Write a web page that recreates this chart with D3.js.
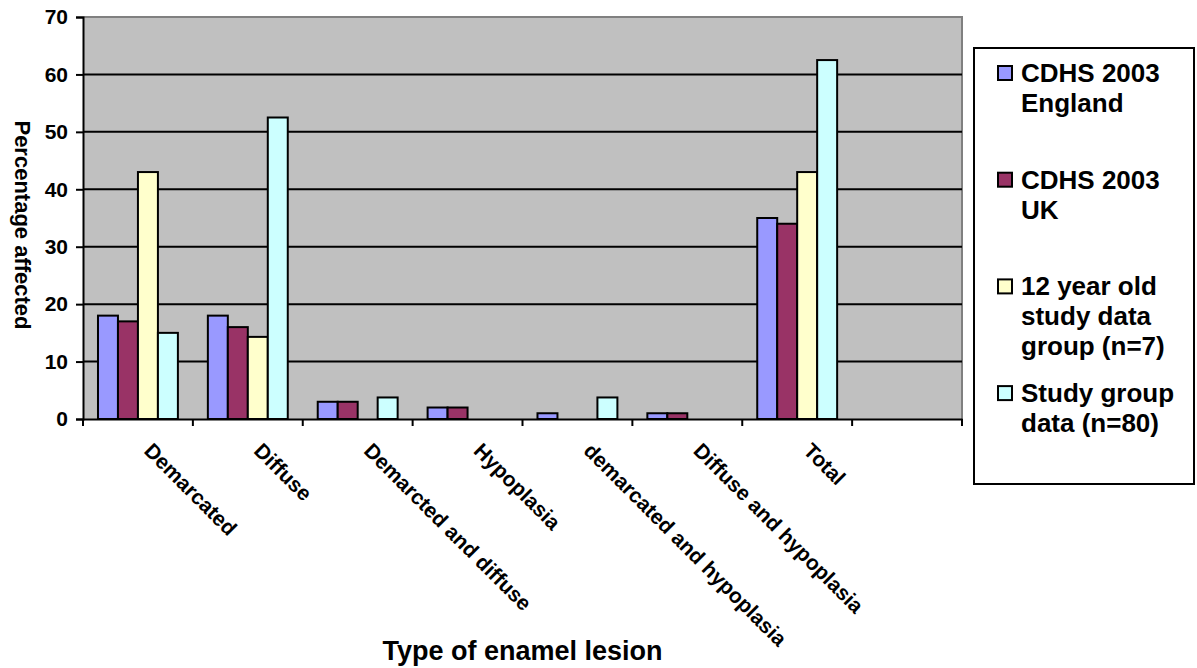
<!DOCTYPE html>
<html>
<head>
<meta charset="utf-8">
<script src="https://cdn.jsdelivr.net/npm/d3@7"></script>
<style>
  html, body { margin: 0; padding: 0; background: #ffffff; }
  svg { display: block; font-family: "Liberation Sans", Arial, Helvetica, sans-serif; font-weight: bold; }
</style>
</head>
<body>
<svg id="chart" width="1197" height="668"></svg>
<script>
// Categories of enamel lesion (last slot intentionally left empty)
const categories = [
  "Demarcated",
  "Diffuse",
  "Demarcted and diffuse",
  "Hypoplasia",
  "demarcated and hypoplasia",
  "Diffuse and hypoplasia",
  "Total",
  ""
];

// Percentage affected per series
const englandValues = [18, 18, 3, 2, 1, 1, 35, null];
const ukValues      = [17, 16, 3, 2, 0, 1, 34, null];
const year12Values  = [43, 14.3, 0, 0, 0, 0, 43, null];
const studyValues   = [15, 52.5, 3.75, 0, 3.75, 0, 62.5, null];

const seriesNames = [
  ["CDHS 2003", "England"],
  ["CDHS 2003", "UK"],
  ["12 year old", "study data", "group (n=7)"],
  ["Study group", "data (n=80)"]
];
const seriesColors = ["#9999FF", "#993366", "#FFFFCC", "#CCFFFF"];

const yTicks = [0, 10, 20, 30, 40, 50, 60, 70];

const seriesValues = [englandValues, ukValues, year12Values, studyValues];

const svg = d3.select("#chart");

// Plot area
const plot = { left: 83, right: 962, top: 17, bottom: 419 };

const x = d3.scaleBand()
  .domain(d3.range(categories.length))
  .range([plot.left, plot.right])
  .padding(0);

const xInner = d3.scaleBand()
  .domain(d3.range(seriesValues.length))
  .range([0, x.bandwidth()])
  .paddingInner(0)
  .paddingOuter(0.75);

const y = d3.scaleLinear()
  .domain([0, 70])
  .range([plot.bottom, plot.top]);

// Background of plot area
svg.append("rect")
  .attr("x", plot.left)
  .attr("y", plot.top)
  .attr("width", plot.right - plot.left)
  .attr("height", plot.bottom - plot.top)
  .attr("fill", "#C0C0C0");

// Gray border on top and right
svg.append("path")
  .attr("d", `M${plot.left},${plot.top}H${plot.right}V${plot.bottom}`)
  .attr("fill", "none")
  .attr("stroke", "#808080")
  .attr("stroke-width", 2);

// Horizontal gridlines
svg.append("g")
  .selectAll("line")
  .data(yTicks.filter(t => t > 0 && t < 70))
  .join("line")
  .attr("x1", plot.left)
  .attr("x2", plot.right)
  .attr("y1", d => y(d))
  .attr("y2", d => y(d))
  .attr("stroke", "#000")
  .attr("stroke-width", 2);

// Bars
const groups = svg.append("g")
  .selectAll("g")
  .data(seriesValues)
  .join("g")
  .attr("fill", (d, i) => seriesColors[i]);

groups.each(function(vals, si) {
  d3.select(this)
    .selectAll("rect")
    .data(vals.map((v, ci) => ({ v, ci })).filter(d => d.v != null && d.v > 0))
    .join("rect")
    .attr("x", d => x(d.ci) + xInner(si))
    .attr("width", xInner.bandwidth())
    .attr("y", d => y(d.v))
    .attr("height", d => y(0) - y(d.v))
    .attr("stroke", "#000")
    .attr("stroke-width", 2);
});

// Y axis
const yAxis = d3.axisLeft(y)
  .tickValues(yTicks)
  .tickSize(7)
  .tickPadding(8)
  .tickFormat(d3.format("d"));

const yg = svg.append("g")
  .attr("transform", `translate(${plot.left},0)`)
  .call(yAxis);
yg.select(".domain").attr("stroke", "#000").attr("stroke-width", 2);
yg.selectAll(".tick line").attr("stroke", "#000").attr("stroke-width", 2);
yg.selectAll(".tick text")
  .attr("font-family", "Liberation Sans, Arial, sans-serif")
  .attr("font-weight", "bold")
  .attr("font-size", 21)
  .attr("fill", "#000");

// X axis with ticks at the category boundaries
const xAxis = d3.axisBottom(x)
  .tickSize(0)
  .tickFormat("");
const xg = svg.append("g")
  .attr("transform", `translate(0,${plot.bottom})`)
  .call(xAxis);
xg.select(".domain").attr("stroke", "#000").attr("stroke-width", 2);

xg.selectAll(".boundary")
  .data(d3.range(categories.length + 1))
  .join("line")
  .attr("class", "boundary")
  .attr("x1", i => plot.left + i * x.step())
  .attr("x2", i => plot.left + i * x.step())
  .attr("y1", 0)
  .attr("y2", 7)
  .attr("stroke", "#000")
  .attr("stroke-width", 2);

// Rotated category labels
svg.append("g")
  .selectAll("text")
  .data(categories.map((c, i) => ({ c, i })))
  .join("text")
  .attr("transform", d => `translate(${x(d.i) + x.bandwidth() / 2 + 5},${plot.bottom + 33}) rotate(45)`)
  .attr("text-anchor", "start")
  .attr("font-size", 21)
  .attr("fill", "#000")
  .text(d => d.c);

// Axis titles
svg.append("text")
  .attr("x", (plot.left + plot.right) / 2)
  .attr("y", 660)
  .attr("text-anchor", "middle")
  .attr("font-size", 27)
  .attr("fill", "#000")
  .text("Type of enamel lesion");

svg.append("text")
  .attr("transform", `translate(15,225) rotate(90)`)
  .attr("text-anchor", "middle")
  .attr("font-size", 22)
  .attr("fill", "#000")
  .text("Percentage affected");

// Legend
const legend = svg.append("g");
legend.append("rect")
  .attr("x", 974)
  .attr("y", 48)
  .attr("width", 220)
  .attr("height", 436)
  .attr("fill", "#fff")
  .attr("stroke", "#000")
  .attr("stroke-width", 2);

const entries = legend.selectAll("g.entry")
  .data(seriesNames)
  .join("g")
  .attr("class", "entry")
  .attr("transform", (d, i) => `translate(0,${65 + i * 106.7})`);

entries.append("rect")
  .attr("x", 998)
  .attr("y", 1)
  .attr("width", 14)
  .attr("height", 14)
  .attr("fill", (d, i) => seriesColors[i])
  .attr("stroke", "#000")
  .attr("stroke-width", 2);

entries.append("text")
  .attr("font-size", 26)
  .attr("fill", "#000")
  .selectAll("tspan")
  .data(d => d)
  .join("tspan")
  .attr("x", 1021)
  .attr("y", (d, j) => 17 + j * 30)
  .text(d => d);
</script>
</body>
</html>
